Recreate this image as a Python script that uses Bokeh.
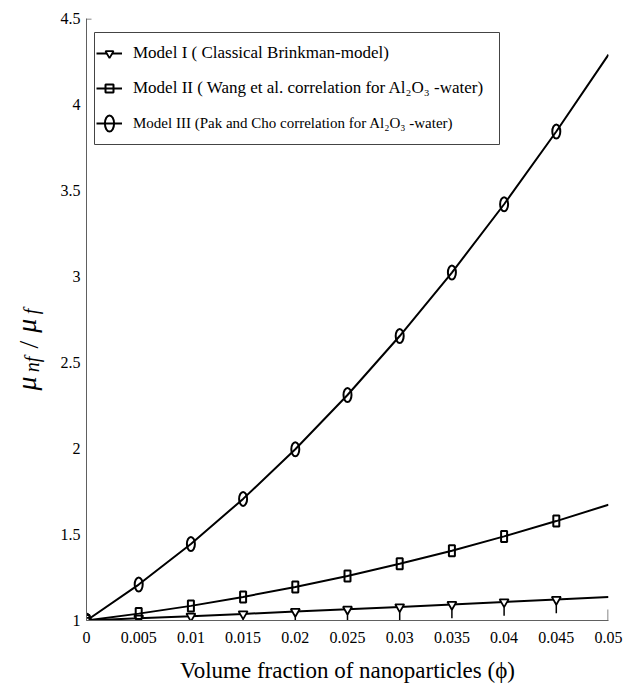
from math import pi

from bokeh.embed import file_html
from bokeh.layouts import row
from bokeh.models import (BoxAnnotation, FixedTicker, Label, Legend, LegendItem,
                          NumeralTickFormatter, Range1d)
from bokeh.plotting import figure
from bokeh.resources import INLINE

# Relative viscosity of Al2O3-water nanofluid versus volume fraction
phi = [0.0, 0.005, 0.01, 0.015, 0.02, 0.025, 0.03, 0.035, 0.04, 0.045, 0.05]
model_1 = [1.000, 1.013, 1.025, 1.038, 1.052, 1.065, 1.079, 1.093, 1.108, 1.122, 1.137]
model_2 = [1.000, 1.040, 1.085, 1.137, 1.195, 1.259, 1.330, 1.406, 1.489, 1.578, 1.673]
model_3 = [1.000, 1.209, 1.445, 1.707, 1.996, 2.311, 2.654, 3.023, 3.420, 3.843, 4.290]

labels = [
    "Model I ( Classical Brinkman-model)",
    "Model II ( Wang et al. correlation for Al\u2082O\u2083 -water)",
    "Model III (Pak and Cho correlation for Al\u2082O\u2083 -water)",
]
x_ticks = [0.0, 0.005, 0.01, 0.015, 0.02, 0.025, 0.03, 0.035, 0.04, 0.045, 0.05]
y_ticks = [1.0, 1.5, 2.0, 2.5, 3.0, 3.5, 4.0, 4.5]
x_title = "Volume fraction of nanoparticles (\u03d5)"

SERIF = "Liberation Serif"
INK = "black"
AXIS_GREY = "#606060"
W, H = 627, 686
TITLE_W = 52                      # strip that carries the rotated y title
FRAME_W = 522                     # plot frame size in px
FRAME_H = 602

# markers sit on every sample except the last one
n_mark = len(phi) - 1
phi_m = phi[:n_mark]
m1 = model_1[:n_mark]
m2 = model_2[:n_mark]
m3 = model_3[:n_mark]

p = figure(width=W - TITLE_W, height=H, output_backend="svg", toolbar_location=None,
           x_range=Range1d(0, 0.05), y_range=Range1d(1, 4.5),
           min_border_left=86 - TITLE_W, min_border_right=19,
           min_border_top=18, min_border_bottom=66)
p.background_fill_color = "white"
p.border_fill_color = "white"
p.outline_line_color = None
p.xgrid.visible = False
p.ygrid.visible = False

for ax in (p.xaxis[0], p.yaxis[0]):
    ax.axis_line_color = AXIS_GREY
    ax.axis_line_width = 1
    ax.major_tick_in = 0
    ax.major_tick_out = 0
    ax.minor_tick_in = 0
    ax.minor_tick_out = 0
    ax.major_label_text_font = SERIF
    ax.major_label_text_font_size = "16px"
    ax.major_label_text_color = INK

p.xaxis.ticker = FixedTicker(ticks=x_ticks)
p.xaxis.formatter = NumeralTickFormatter(format="0.[000]")
p.xaxis.major_label_standoff = 11
p.xaxis.axis_label = x_title
p.xaxis.axis_label_text_font = SERIF
p.xaxis.axis_label_text_font_style = "normal"
p.xaxis.axis_label_text_font_size = "23px"
p.xaxis.axis_label_text_color = INK
p.xaxis.axis_label_standoff = 12

p.yaxis.ticker = FixedTicker(ticks=y_ticks)
p.yaxis.formatter = NumeralTickFormatter(format="0.[0]")
p.yaxis.major_label_standoff = 6

# short inward ticks at the far end of each axis
p.add_layout(BoxAnnotation(left=FRAME_W - 1, right=FRAME_W, bottom=0, top=11,
                           left_units="screen", right_units="screen",
                           bottom_units="screen", top_units="screen",
                           fill_color=AXIS_GREY, fill_alpha=1, line_color=None))
p.add_layout(BoxAnnotation(left=0, right=5, bottom=FRAME_H - 1, top=FRAME_H,
                           left_units="screen", right_units="screen",
                           bottom_units="screen", top_units="screen",
                           fill_color=AXIS_GREY, fill_alpha=1, line_color=None))

# curves
l1 = p.line(phi, model_1, line_color=INK, line_width=2)
l2 = p.line(phi, model_2, line_color=INK, line_width=2)
l3 = p.line(phi, model_3, line_color=INK, line_width=2)

# Model I: inverted triangles with a short stem below
stem = 0.08
p.segment(x0=phi_m, y0=m1, x1=phi_m, y1=[v - stem for v in m1],
          line_color=INK, line_width=1.5)
tri = p.scatter(phi_m, m1, marker="inverted_triangle", size=9,
                fill_color="white", line_color=INK, line_width=1.8)

# Model II: tall rectangles, curve passes through the middle
p.rect(phi_m, m2, width=6, height=11, width_units="screen", height_units="screen",
       fill_alpha=0, line_color=INK, line_width=2)
sq_key = p.scatter(phi_m, m2, marker="square", size=8, fill_alpha=0,
                   line_color=INK, line_width=2, visible=False)

# Model III: tall ellipses
ell = p.ellipse(phi_m, m3, width=8, height=14, width_units="screen",
                height_units="screen", fill_alpha=0, line_color=INK, line_width=2)

# legend frame (frame-relative px, y up)
p.add_layout(BoxAnnotation(left=8, right=413, bottom=FRAME_H - 126, top=FRAME_H - 14,
                           left_units="screen", right_units="screen",
                           bottom_units="screen", top_units="screen",
                           fill_color="white", fill_alpha=1,
                           line_color="#444444", line_width=1, line_alpha=1))


def make_legend(items, font_size, top):
    lg = Legend(items=items)
    n = len(items)
    h = n * 20 + (n - 1) * 15
    lg.location = (10, FRAME_H - top - h)
    lg.padding = 0
    lg.spacing = 15
    lg.margin = 0
    lg.glyph_width = 26
    lg.glyph_height = 20
    lg.label_height = 20
    lg.label_standoff = 11
    lg.label_text_font = SERIF
    lg.label_text_font_size = font_size
    lg.label_text_color = INK
    lg.border_line_color = None
    lg.background_fill_alpha = 0
    return lg


p.add_layout(make_legend([
    LegendItem(label=labels[0], renderers=[l1, tri]),
    LegendItem(label=labels[1], renderers=[l2, sq_key]),
], "17px", 25))
p.add_layout(make_legend([
    LegendItem(label=labels[2], renderers=[l3, ell]),
], "15px", 95))

# strip to the left holding the rotated y title: mu_nf / mu_f
t = figure(width=TITLE_W, height=H, output_backend="svg", toolbar_location=None,
           x_range=Range1d(0, TITLE_W), y_range=Range1d(H, 0),
           x_axis_location=None, y_axis_location=None,
           min_border=0)
t.outline_line_color = None
t.background_fill_color = "white"
t.border_fill_color = "white"
t.xgrid.visible = False
t.ygrid.visible = False

y_title_parts = [
    # text, font size, italic, start (px from top), baseline x
    ("\u03bc", "28px", True, 424, 26),
    ("nf", "20px", True, 403, 31),
    ("/", "28px", False, 376, 28),
    ("\u03bc", "28px", True, 358, 26),
    ("f", "20px", True, 337, 30),
]
for text, size, italic, top, bx in y_title_parts:
    t.add_layout(Label(x=bx, y=top, text=text, angle=pi / 2,
                       text_font=SERIF, text_font_size=size,
                       text_font_style="italic" if italic else "normal",
                       text_color=INK, text_align="left",
                       text_baseline="alphabetic"))

layout = row(t, p)
open("out.html", "w").write(file_html(layout, INLINE))
